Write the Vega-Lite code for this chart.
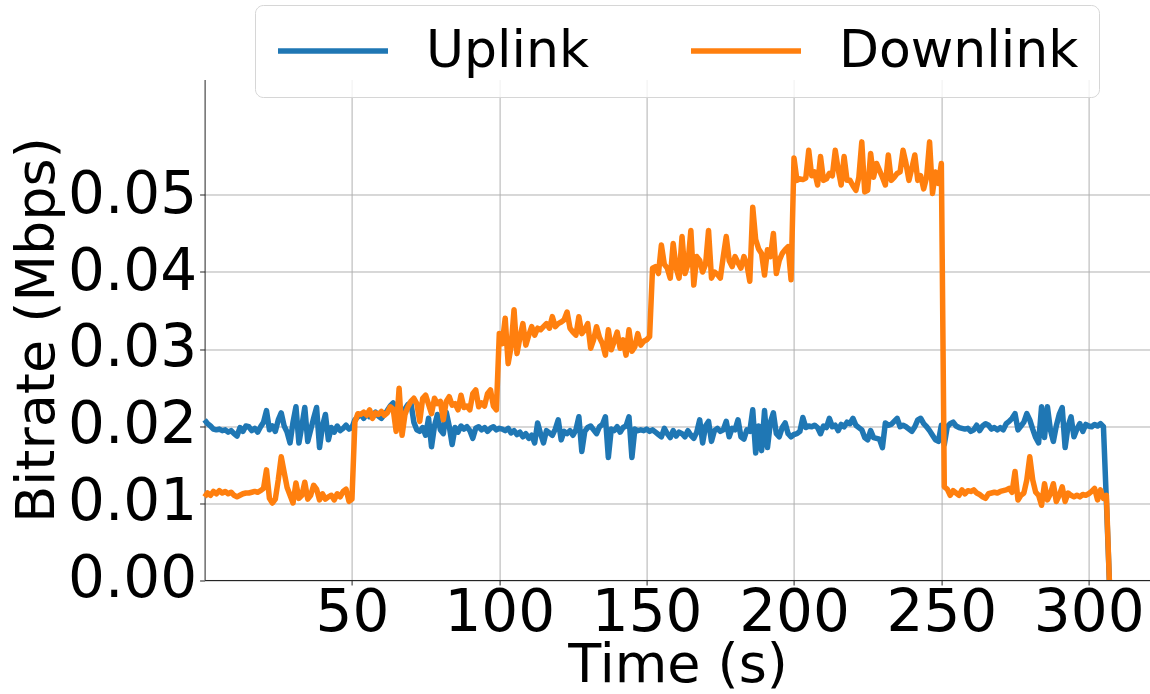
{
"$schema": "https://vega.github.io/schema/vega-lite/v6.json",
"width": 946, "height": 500.5,
"autosize": {"type": "none"},
"padding": {"left": 204.6, "top": 79.5, "right": 0, "bottom": 114},
"background": "white",
"config": {"view": {"stroke": null}, "font": "DejaVu Sans"},
"encoding": {
 "x": {"field": "t", "type": "quantitative", "scale": {"domain": [0, 321], "nice": false, "zero": false},
  "axis": {"values": [50,100,150,200,250,300], "title": "Time (s)", "labelFontSize": 58, "titleFontSize": 54, "labelFont": "DejaVu Sans", "titleFont": "DejaVu Sans", "labelColor": "black", "titleColor": "black", "titleFontWeight": "normal", "domainColor": "#222222", "tickColor": "#222222", "tickSize": 5, "labelPadding": 0, "labelFlush": false, "labelOverlap": false, "grid": true, "gridColor": "#b0b0b0", "gridWidth": 1, "titleY": 102, "titleBaseline": "alphabetic"}},
 "y": {"field": "v", "type": "quantitative", "scale": {"domain": [0, 0.065], "nice": false},
  "axis": {"values": [0,0.01,0.02,0.03,0.04,0.05], "format": ".2f", "title": "Bitrate (Mbps)", "labelFontSize": 58, "titleFontSize": 54, "labelFont": "DejaVu Sans", "titleFont": "DejaVu Sans", "labelColor": "black", "titleColor": "black", "titleFontWeight": "normal", "domainColor": "#222222", "tickColor": "#222222", "tickSize": 5, "labelPadding": 3, "labelOverlap": false, "grid": true, "gridColor": "#b0b0b0", "gridWidth": 1, "titleX": -150.6, "titleY": 250, "titleAngle": 270, "titleBaseline": "alphabetic", "titleAlign": "center"}}
},
"layer": [
{"data": {"values": [
{"t":0,"v":0.0208},{"t":1,"v":0.0203},{"t":2,"v":0.0200},{"t":3,"v":0.0196},{"t":4,"v":0.0195},{"t":5,"v":0.0196},{"t":6,"v":0.0194},{"t":7,"v":0.0195},{"t":8,"v":0.0192},{"t":9,"v":0.0194},
{"t":10,"v":0.0190},{"t":11,"v":0.0187},{"t":12,"v":0.0198},{"t":13,"v":0.0193},{"t":14,"v":0.0200},{"t":15,"v":0.0199},{"t":16,"v":0.0194},{"t":17,"v":0.0197},{"t":18,"v":0.0192},{"t":19,"v":0.0199},
{"t":20,"v":0.0205},{"t":21,"v":0.0220},{"t":22,"v":0.0195},{"t":23,"v":0.0200},{"t":24,"v":0.0193},{"t":25,"v":0.0208},{"t":26,"v":0.0217},{"t":27,"v":0.0200},{"t":28,"v":0.0192},{"t":29,"v":0.0178},
{"t":30,"v":0.0205},{"t":31,"v":0.0225},{"t":32,"v":0.0178},{"t":33,"v":0.0200},{"t":34,"v":0.0224},{"t":35,"v":0.0180},{"t":36,"v":0.0195},{"t":37,"v":0.0210},{"t":38,"v":0.0224},{"t":39,"v":0.0172},
{"t":40,"v":0.0200},{"t":41,"v":0.0215},{"t":42,"v":0.0182},{"t":43,"v":0.0198},{"t":44,"v":0.0192},{"t":45,"v":0.0200},{"t":46,"v":0.0194},{"t":47,"v":0.0197},{"t":48,"v":0.0201},{"t":49,"v":0.0196},
{"t":50,"v":0.0198},{"t":51,"v":0.0208},{"t":52,"v":0.0212},{"t":53,"v":0.0215},{"t":54,"v":0.0210},{"t":55,"v":0.0216},{"t":56,"v":0.0212},{"t":57,"v":0.0214},{"t":58,"v":0.0218},{"t":59,"v":0.0213},
{"t":60,"v":0.0210},{"t":61,"v":0.0215},{"t":62,"v":0.0220},{"t":63,"v":0.0226},{"t":64,"v":0.0230},{"t":65,"v":0.0215},{"t":66,"v":0.0210},{"t":67,"v":0.0218},{"t":68,"v":0.0222},{"t":69,"v":0.0228},
{"t":70,"v":0.0230},{"t":71,"v":0.0205},{"t":72,"v":0.0195},{"t":73,"v":0.0193},{"t":74,"v":0.0198},{"t":75,"v":0.0188},{"t":76,"v":0.0210},{"t":77,"v":0.0173},{"t":78,"v":0.0200},{"t":79,"v":0.0215},
{"t":80,"v":0.0195},{"t":81,"v":0.0190},{"t":82,"v":0.0218},{"t":83,"v":0.0200},{"t":84,"v":0.0176},{"t":85,"v":0.0198},{"t":86,"v":0.0192},{"t":87,"v":0.0200},{"t":88,"v":0.0196},{"t":89,"v":0.0199},
{"t":90,"v":0.0194},{"t":91,"v":0.0184},{"t":92,"v":0.0197},{"t":93,"v":0.0199},{"t":94,"v":0.0195},{"t":95,"v":0.0198},{"t":96,"v":0.0193},{"t":97,"v":0.0197},{"t":98,"v":0.0199},{"t":99,"v":0.0195},
{"t":100,"v":0.0197},{"t":101,"v":0.0196},{"t":102,"v":0.0194},{"t":103,"v":0.0197},{"t":104,"v":0.0191},{"t":105,"v":0.0194},{"t":106,"v":0.0189},{"t":107,"v":0.0192},{"t":108,"v":0.0186},{"t":109,"v":0.0190},
{"t":110,"v":0.0184},{"t":111,"v":0.0188},{"t":112,"v":0.0178},{"t":113,"v":0.0204},{"t":114,"v":0.0190},{"t":115,"v":0.0178},{"t":116,"v":0.0194},{"t":117,"v":0.0191},{"t":118,"v":0.0188},{"t":119,"v":0.0196},
{"t":120,"v":0.0208},{"t":121,"v":0.0182},{"t":122,"v":0.0193},{"t":123,"v":0.0190},{"t":124,"v":0.0194},{"t":125,"v":0.0188},{"t":126,"v":0.0195},{"t":127,"v":0.0212},{"t":128,"v":0.0167},{"t":129,"v":0.0193},
{"t":130,"v":0.0198},{"t":131,"v":0.0200},{"t":132,"v":0.0195},{"t":133,"v":0.0190},{"t":134,"v":0.0199},{"t":135,"v":0.0202},{"t":136,"v":0.0212},{"t":137,"v":0.0159},{"t":138,"v":0.0196},{"t":139,"v":0.0194},
{"t":140,"v":0.0199},{"t":141,"v":0.0192},{"t":142,"v":0.0198},{"t":143,"v":0.0200},{"t":144,"v":0.0212},{"t":145,"v":0.0159},{"t":146,"v":0.0196},{"t":147,"v":0.0194},{"t":148,"v":0.0195},{"t":149,"v":0.0194},
{"t":150,"v":0.0196},{"t":151,"v":0.0193},{"t":152,"v":0.0195},{"t":153,"v":0.0192},{"t":154,"v":0.0189},{"t":155,"v":0.0186},{"t":156,"v":0.0197},{"t":157,"v":0.0190},{"t":158,"v":0.0185},{"t":159,"v":0.0194},
{"t":160,"v":0.0187},{"t":161,"v":0.0192},{"t":162,"v":0.0190},{"t":163,"v":0.0186},{"t":164,"v":0.0194},{"t":165,"v":0.0188},{"t":166,"v":0.0184},{"t":167,"v":0.0192},{"t":168,"v":0.0208},{"t":169,"v":0.0178},
{"t":170,"v":0.0200},{"t":171,"v":0.0206},{"t":172,"v":0.0180},{"t":173,"v":0.0194},{"t":174,"v":0.0197},{"t":175,"v":0.0193},{"t":176,"v":0.0195},{"t":177,"v":0.0206},{"t":178,"v":0.0186},{"t":179,"v":0.0197},
{"t":180,"v":0.0195},{"t":181,"v":0.0208},{"t":182,"v":0.0186},{"t":183,"v":0.0183},{"t":184,"v":0.0195},{"t":185,"v":0.0193},{"t":186,"v":0.0221},{"t":187,"v":0.0165},{"t":188,"v":0.0200},{"t":189,"v":0.0168},
{"t":190,"v":0.0220},{"t":191,"v":0.0172},{"t":192,"v":0.0205},{"t":193,"v":0.0217},{"t":194,"v":0.0190},{"t":195,"v":0.0186},{"t":196,"v":0.0198},{"t":197,"v":0.0204},{"t":198,"v":0.0190},{"t":199,"v":0.0186},
{"t":200,"v":0.0189},{"t":201,"v":0.0190},{"t":202,"v":0.0193},{"t":203,"v":0.0211},{"t":204,"v":0.0198},{"t":205,"v":0.0200},{"t":206,"v":0.0199},{"t":207,"v":0.0201},{"t":208,"v":0.0198},{"t":209,"v":0.0190},
{"t":210,"v":0.0200},{"t":211,"v":0.0198},{"t":212,"v":0.0210},{"t":213,"v":0.0199},{"t":214,"v":0.0201},{"t":215,"v":0.0194},{"t":216,"v":0.0202},{"t":217,"v":0.0199},{"t":218,"v":0.0205},{"t":219,"v":0.0203},
{"t":220,"v":0.0210},{"t":221,"v":0.0201},{"t":222,"v":0.0198},{"t":223,"v":0.0195},{"t":224,"v":0.0185},{"t":225,"v":0.0182},{"t":226,"v":0.0194},{"t":227,"v":0.0185},{"t":228,"v":0.0184},{"t":229,"v":0.0183},
{"t":230,"v":0.0172},{"t":231,"v":0.0204},{"t":232,"v":0.0201},{"t":233,"v":0.0202},{"t":234,"v":0.0206},{"t":235,"v":0.0210},{"t":236,"v":0.0199},{"t":237,"v":0.0201},{"t":238,"v":0.0199},{"t":239,"v":0.0196},
{"t":240,"v":0.0193},{"t":241,"v":0.0199},{"t":242,"v":0.0208},{"t":243,"v":0.0210},{"t":244,"v":0.0203},{"t":245,"v":0.0199},{"t":246,"v":0.0194},{"t":247,"v":0.0188},{"t":248,"v":0.0182},{"t":249,"v":0.0180},
{"t":250,"v":0.0201},{"t":251,"v":0.0176},{"t":252,"v":0.0199},{"t":253,"v":0.0203},{"t":254,"v":0.0205},{"t":255,"v":0.0200},{"t":256,"v":0.0198},{"t":257,"v":0.0197},{"t":258,"v":0.0196},{"t":259,"v":0.0197},
{"t":260,"v":0.0193},{"t":261,"v":0.0195},{"t":262,"v":0.0201},{"t":263,"v":0.0194},{"t":264,"v":0.0200},{"t":265,"v":0.0203},{"t":266,"v":0.0201},{"t":267,"v":0.0196},{"t":268,"v":0.0198},{"t":269,"v":0.0195},
{"t":270,"v":0.0198},{"t":271,"v":0.0195},{"t":272,"v":0.0203},{"t":273,"v":0.0206},{"t":274,"v":0.0210},{"t":275,"v":0.0216},{"t":276,"v":0.0195},{"t":277,"v":0.0200},{"t":278,"v":0.0205},{"t":279,"v":0.0216},
{"t":280,"v":0.0208},{"t":281,"v":0.0196},{"t":282,"v":0.0185},{"t":283,"v":0.0178},{"t":284,"v":0.0225},{"t":285,"v":0.0185},{"t":286,"v":0.0225},{"t":287,"v":0.0195},{"t":288,"v":0.0180},{"t":289,"v":0.0200},
{"t":290,"v":0.0215},{"t":291,"v":0.0224},{"t":292,"v":0.0172},{"t":293,"v":0.0200},{"t":294,"v":0.0212},{"t":295,"v":0.0186},{"t":296,"v":0.0196},{"t":297,"v":0.0203},{"t":298,"v":0.0193},{"t":299,"v":0.0202},
{"t":300,"v":0.0200},{"t":301,"v":0.0199},{"t":302,"v":0.0202},{"t":303,"v":0.0200},{"t":304,"v":0.0203},{"t":305,"v":0.0199},{"t":306,"v":0.0102},{"t":307,"v":0.0}
]},
 "mark": {"type": "line", "strokeWidth": 5.5, "strokeJoin": "round"},
 "encoding": {"color": {"datum": "Uplink", "type": "nominal",
   "scale": {"domain": ["Uplink", "Downlink"], "range": ["#1f77b4", "#ff7f0e"]},
   "legend": {"title": null, "orient": "none", "legendX": 50.4, "legendY": -74.5, "direction": "horizontal", "symbolType": "stroke", "symbolSize": 12100, "symbolStrokeWidth": 5.5, "clipHeight": 52, "labelFontSize": 52, "labelFont": "DejaVu Sans", "labelColor": "black", "labelOffset": 35, "columnPadding": 98, "padding": 20, "fillColor": "rgba(255,255,255,0.8)", "strokeColor": "#d6d6d6", "cornerRadius": 8, "labelLimit": 0}}}},
{"data": {"values": [
{"t":0,"v":0.0108},{"t":1,"v":0.0113},{"t":2,"v":0.0110},{"t":3,"v":0.0115},{"t":4,"v":0.0112},{"t":5,"v":0.0116},{"t":6,"v":0.0113},{"t":7,"v":0.0115},{"t":8,"v":0.0112},{"t":9,"v":0.0114},
{"t":10,"v":0.0110},{"t":11,"v":0.0108},{"t":12,"v":0.0110},{"t":13,"v":0.0112},{"t":14,"v":0.0113},{"t":15,"v":0.0113},{"t":16,"v":0.0114},{"t":17,"v":0.0115},{"t":18,"v":0.0114},{"t":19,"v":0.0116},
{"t":20,"v":0.0119},{"t":21,"v":0.0143},{"t":22,"v":0.0106},{"t":23,"v":0.0100},{"t":24,"v":0.0105},{"t":25,"v":0.0130},{"t":26,"v":0.0160},{"t":27,"v":0.0140},{"t":28,"v":0.0120},{"t":29,"v":0.0110},
{"t":30,"v":0.0100},{"t":31,"v":0.0126},{"t":32,"v":0.0106},{"t":33,"v":0.0110},{"t":34,"v":0.0127},{"t":35,"v":0.0105},{"t":36,"v":0.0110},{"t":37,"v":0.0123},{"t":38,"v":0.0118},{"t":39,"v":0.0104},
{"t":40,"v":0.0112},{"t":41,"v":0.0105},{"t":42,"v":0.0108},{"t":43,"v":0.0110},{"t":44,"v":0.0104},{"t":45,"v":0.0112},{"t":46,"v":0.0108},{"t":47,"v":0.0115},{"t":48,"v":0.0118},{"t":49,"v":0.0102},
{"t":50,"v":0.0105},{"t":51,"v":0.0205},{"t":52,"v":0.0216},{"t":53,"v":0.0215},{"t":54,"v":0.0218},{"t":55,"v":0.0214},{"t":56,"v":0.0221},{"t":57,"v":0.0210},{"t":58,"v":0.0217},{"t":59,"v":0.0215},
{"t":60,"v":0.0219},{"t":61,"v":0.0214},{"t":62,"v":0.0217},{"t":63,"v":0.0225},{"t":64,"v":0.0222},{"t":65,"v":0.0193},{"t":66,"v":0.0249},{"t":67,"v":0.0188},{"t":68,"v":0.0215},{"t":69,"v":0.0225},
{"t":70,"v":0.0232},{"t":71,"v":0.0236},{"t":72,"v":0.0229},{"t":73,"v":0.0206},{"t":74,"v":0.0236},{"t":75,"v":0.0240},{"t":76,"v":0.0228},{"t":77,"v":0.0216},{"t":78,"v":0.0236},{"t":79,"v":0.0229},
{"t":80,"v":0.0232},{"t":81,"v":0.0208},{"t":82,"v":0.0232},{"t":83,"v":0.0238},{"t":84,"v":0.0227},{"t":85,"v":0.0229},{"t":86,"v":0.0221},{"t":87,"v":0.0240},{"t":88,"v":0.0224},{"t":89,"v":0.0226},
{"t":90,"v":0.0221},{"t":91,"v":0.0242},{"t":92,"v":0.0247},{"t":93,"v":0.0225},{"t":94,"v":0.0230},{"t":95,"v":0.0226},{"t":96,"v":0.0242},{"t":97,"v":0.0247},{"t":98,"v":0.0226},{"t":99,"v":0.0221},
{"t":100,"v":0.0320},{"t":101,"v":0.0307},{"t":102,"v":0.0340},{"t":103,"v":0.0281},{"t":104,"v":0.0303},{"t":105,"v":0.0351},{"t":106,"v":0.0294},{"t":107,"v":0.0315},{"t":108,"v":0.0333},{"t":109,"v":0.0305},
{"t":110,"v":0.0318},{"t":111,"v":0.0329},{"t":112,"v":0.0318},{"t":113,"v":0.0327},{"t":114,"v":0.0325},{"t":115,"v":0.0329},{"t":116,"v":0.0333},{"t":117,"v":0.0327},{"t":118,"v":0.0342},{"t":119,"v":0.0329},
{"t":120,"v":0.0333},{"t":121,"v":0.0335},{"t":122,"v":0.0338},{"t":123,"v":0.0348},{"t":124,"v":0.0327},{"t":125,"v":0.0322},{"t":126,"v":0.0318},{"t":127,"v":0.0342},{"t":128,"v":0.0320},{"t":129,"v":0.0325},
{"t":130,"v":0.0333},{"t":131,"v":0.0301},{"t":132,"v":0.0312},{"t":133,"v":0.0329},{"t":134,"v":0.0315},{"t":135,"v":0.0307},{"t":136,"v":0.0292},{"t":137,"v":0.0325},{"t":138,"v":0.0299},{"t":139,"v":0.0310},
{"t":140,"v":0.0322},{"t":141,"v":0.0301},{"t":142,"v":0.0312},{"t":143,"v":0.0292},{"t":144,"v":0.0325},{"t":145,"v":0.0297},{"t":146,"v":0.0303},{"t":147,"v":0.0320},{"t":148,"v":0.0305},{"t":149,"v":0.0310},
{"t":150,"v":0.0312},{"t":151,"v":0.0316},{"t":152,"v":0.0405},{"t":153,"v":0.0407},{"t":154,"v":0.0398},{"t":155,"v":0.0435},{"t":156,"v":0.0410},{"t":157,"v":0.0405},{"t":158,"v":0.0392},{"t":159,"v":0.0437},
{"t":160,"v":0.0405},{"t":161,"v":0.0392},{"t":162,"v":0.0446},{"t":163,"v":0.0398},{"t":164,"v":0.0410},{"t":165,"v":0.0454},{"t":166,"v":0.0383},{"t":167,"v":0.0420},{"t":168,"v":0.0415},{"t":169,"v":0.0400},
{"t":170,"v":0.0410},{"t":171,"v":0.0454},{"t":172,"v":0.0392},{"t":173,"v":0.0400},{"t":174,"v":0.0397},{"t":175,"v":0.0392},{"t":176,"v":0.0420},{"t":177,"v":0.0446},{"t":178,"v":0.0415},{"t":179,"v":0.0407},
{"t":180,"v":0.0420},{"t":181,"v":0.0412},{"t":182,"v":0.0405},{"t":183,"v":0.0420},{"t":184,"v":0.0410},{"t":185,"v":0.0388},{"t":186,"v":0.0484},{"t":187,"v":0.0442},{"t":188,"v":0.0430},{"t":189,"v":0.0424},
{"t":190,"v":0.0396},{"t":191,"v":0.0429},{"t":192,"v":0.0420},{"t":193,"v":0.0450},{"t":194,"v":0.0398},{"t":195,"v":0.0415},{"t":196,"v":0.0424},{"t":197,"v":0.0429},{"t":198,"v":0.0433},{"t":199,"v":0.0390},
{"t":200,"v":0.0548},{"t":201,"v":0.0519},{"t":202,"v":0.0521},{"t":203,"v":0.0520},{"t":204,"v":0.0522},{"t":205,"v":0.0558},{"t":206,"v":0.0525},{"t":207,"v":0.0530},{"t":208,"v":0.0513},{"t":209,"v":0.0550},
{"t":210,"v":0.0519},{"t":211,"v":0.0521},{"t":212,"v":0.0528},{"t":213,"v":0.0525},{"t":214,"v":0.0558},{"t":215,"v":0.0533},{"t":216,"v":0.0513},{"t":217,"v":0.0550},{"t":218,"v":0.0519},{"t":219,"v":0.0519},
{"t":220,"v":0.0512},{"t":221,"v":0.0506},{"t":222,"v":0.0523},{"t":223,"v":0.0569},{"t":224,"v":0.0504},{"t":225,"v":0.0506},{"t":226,"v":0.0554},{"t":227,"v":0.0523},{"t":228,"v":0.0541},{"t":229,"v":0.0532},
{"t":230,"v":0.0523},{"t":231,"v":0.0513},{"t":232,"v":0.0552},{"t":233,"v":0.0519},{"t":234,"v":0.0523},{"t":235,"v":0.0528},{"t":236,"v":0.0530},{"t":237,"v":0.0558},{"t":238,"v":0.0541},{"t":239,"v":0.0519},
{"t":240,"v":0.0535},{"t":241,"v":0.0552},{"t":242,"v":0.0519},{"t":243,"v":0.0525},{"t":244,"v":0.0508},{"t":245,"v":0.0523},{"t":246,"v":0.0569},{"t":247,"v":0.0502},{"t":248,"v":0.0530},{"t":249,"v":0.0515},
{"t":250,"v":0.0541},{"t":251,"v":0.0121},{"t":252,"v":0.0118},{"t":253,"v":0.0110},{"t":254,"v":0.0116},{"t":255,"v":0.0113},{"t":256,"v":0.0110},{"t":257,"v":0.0117},{"t":258,"v":0.0112},{"t":259,"v":0.0116},
{"t":260,"v":0.0115},{"t":261,"v":0.0117},{"t":262,"v":0.0113},{"t":263,"v":0.0111},{"t":264,"v":0.0108},{"t":265,"v":0.0106},{"t":266,"v":0.0112},{"t":267,"v":0.0113},{"t":268,"v":0.0114},{"t":269,"v":0.0113},
{"t":270,"v":0.0115},{"t":271,"v":0.0116},{"t":272,"v":0.0117},{"t":273,"v":0.0119},{"t":274,"v":0.0114},{"t":275,"v":0.0141},{"t":276,"v":0.0104},{"t":277,"v":0.0110},{"t":278,"v":0.0113},{"t":279,"v":0.0130},
{"t":280,"v":0.0160},{"t":281,"v":0.0130},{"t":282,"v":0.0114},{"t":283,"v":0.0110},{"t":284,"v":0.0097},{"t":285,"v":0.0125},{"t":286,"v":0.0104},{"t":287,"v":0.0112},{"t":288,"v":0.0125},{"t":289,"v":0.0102},
{"t":290,"v":0.0110},{"t":291,"v":0.0121},{"t":292,"v":0.0102},{"t":293,"v":0.0113},{"t":294,"v":0.0110},{"t":295,"v":0.0108},{"t":296,"v":0.0110},{"t":297,"v":0.0108},{"t":298,"v":0.0111},{"t":299,"v":0.0110},
{"t":300,"v":0.0112},{"t":301,"v":0.0115},{"t":302,"v":0.0119},{"t":303,"v":0.0104},{"t":304,"v":0.0117},{"t":305,"v":0.0106},{"t":306,"v":0.0110},{"t":307,"v":0.0}
]},
 "mark": {"type": "line", "strokeWidth": 5.5, "strokeJoin": "round"},
 "encoding": {"color": {"datum": "Downlink", "type": "nominal"}}}
]
}
